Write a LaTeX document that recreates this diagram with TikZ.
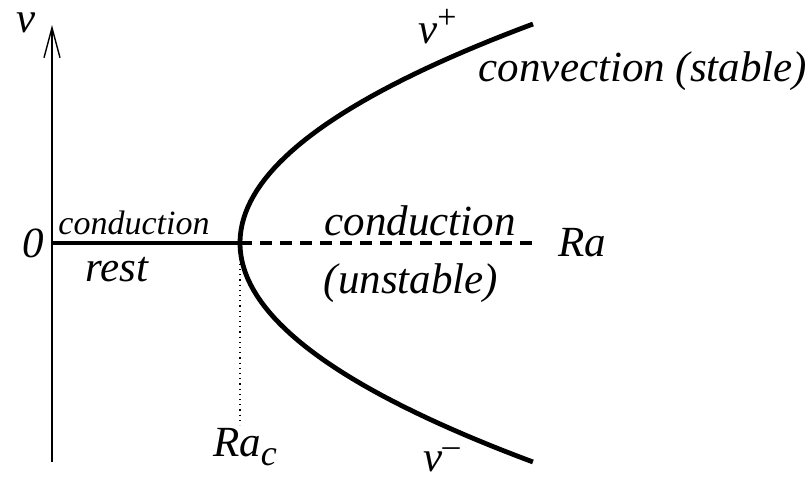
\documentclass[tikz,border=0pt]{standalone}
\usepackage{fontspec}
\setmainfont{Liberation Serif}
\usetikzlibrary{arrows.meta}

\begin{document}
\begin{tikzpicture}[
  x=0.5pt,y=-0.5pt,
  axis/.style={draw=black,line width=0.7pt},
  branch/.style={draw=black,line width=2.4pt},
  unstable/.style={draw=black,line width=2pt,dash pattern=on 6pt off 4pt},
  guide/.style={draw=black,line width=0.6pt,dotted},
  big/.style={font=\fontsize{21.5}{26}\selectfont\itshape,inner sep=0pt},
  small/.style={font=\fontsize{17}{20}\selectfont\itshape,inner sep=0pt}
]
  \useasboundingbox (0,0) rectangle (812,482);
  % axes
  \coordinate (vbot) at (52,462);
  \coordinate (vtop) at (52,25);
  \coordinate (origin) at (52,243);
  \coordinate (rac) at (240,243);
  \coordinate (raend) at (535,243);
  \coordinate (racfoot) at (240,425);
  \draw[axis,-{Straight Barb[length=15pt,width=8pt,line width=0.7pt]}] (vbot) -- (vtop);
  \node[big] (vlab) at (26,23) {v};
  \node[big] (zero) at (33,243) {0};
  \node[big] (ralab) at (582,243) {Ra};

  % conduction branch
  \draw[branch] (origin) -- (rac);
  \draw[unstable] (rac) -- (raend);
  \draw[guide] (rac) -- (racfoot);
  \node[small] (condleft) at (134,223) {conduction};
  \node[big] (rest) at (117,270) {rest};
  \node[big] (condright) at (420,221) {conduction};
  \node[big] (unst) at (411,283) {(unstable)};
  \node[big] (raclab) at (245,447) {Ra\raisebox{-0.45ex}{\fontsize{18}{20}\selectfont c}};

  % convection branches
  \draw[branch] plot[domain=-1:1,samples=80] ({240+293*\x*\x},{243+219*\x});
  \node[big] (vplus) at (438,27) {v\textsuperscript{\fontsize{17}{20}\selectfont\upshape+}};
  \node[big] (vminus) at (442,460) {v\textsuperscript{\fontsize{17}{20}\selectfont\upshape--}};
  \node[big] (conv) at (643,71) {convection (stable)};
\end{tikzpicture}
\end{document}
